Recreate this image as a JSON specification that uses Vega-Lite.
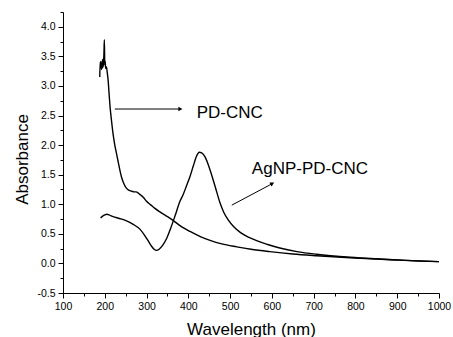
{
  "$schema": "https://vega.github.io/schema/vega-lite/v6.json",
  "width": 376,
  "height": 281,
  "autosize": {"type": "none"},
  "padding": {"left": 63, "top": 12, "right": 14, "bottom": 44},
  "background": "white",
  "config": {
    "view": {"stroke": null},
    "font": "Liberation Sans",
    "axis": {
      "grid": false,
      "domainColor": "black",
      "tickColor": "black",
      "labelColor": "black",
      "titleColor": "black",
      "labelFont": "Liberation Sans",
      "titleFont": "Liberation Sans",
      "labelFontSize": 10.5,
      "titleFontSize": 17,
      "titleFontWeight": "normal",
      "domainWidth": 1,
      "tickWidth": 1,
      "labelOverlap": false
    }
  },
  "resolve": {"axis": {"x": "independent", "y": "independent"}},
  "datasets": {
    "spectra": [
      {"series": "PD-CNC", "wl": 188, "a": 3.15},
      {"series": "PD-CNC", "wl": 189, "a": 3.40},
      {"series": "PD-CNC", "wl": 190, "a": 3.35},
      {"series": "PD-CNC", "wl": 191, "a": 3.42},
      {"series": "PD-CNC", "wl": 192, "a": 3.28},
      {"series": "PD-CNC", "wl": 193, "a": 3.38},
      {"series": "PD-CNC", "wl": 194, "a": 3.30},
      {"series": "PD-CNC", "wl": 195, "a": 3.45},
      {"series": "PD-CNC", "wl": 196, "a": 3.32},
      {"series": "PD-CNC", "wl": 197, "a": 3.40},
      {"series": "PD-CNC", "wl": 198, "a": 3.55},
      {"series": "PD-CNC", "wl": 199, "a": 3.78},
      {"series": "PD-CNC", "wl": 200, "a": 3.35},
      {"series": "PD-CNC", "wl": 201, "a": 3.42},
      {"series": "PD-CNC", "wl": 202, "a": 3.30},
      {"series": "PD-CNC", "wl": 204, "a": 3.32},
      {"series": "PD-CNC", "wl": 206, "a": 3.22},
      {"series": "PD-CNC", "wl": 208, "a": 3.10},
      {"series": "PD-CNC", "wl": 210, "a": 2.90},
      {"series": "PD-CNC", "wl": 213, "a": 2.62},
      {"series": "PD-CNC", "wl": 216, "a": 2.42},
      {"series": "PD-CNC", "wl": 220, "a": 2.18},
      {"series": "PD-CNC", "wl": 224, "a": 2.00},
      {"series": "PD-CNC", "wl": 228, "a": 1.86},
      {"series": "PD-CNC", "wl": 232, "a": 1.72},
      {"series": "PD-CNC", "wl": 236, "a": 1.58},
      {"series": "PD-CNC", "wl": 240, "a": 1.46},
      {"series": "PD-CNC", "wl": 245, "a": 1.36},
      {"series": "PD-CNC", "wl": 250, "a": 1.29},
      {"series": "PD-CNC", "wl": 255, "a": 1.25},
      {"series": "PD-CNC", "wl": 260, "a": 1.23},
      {"series": "PD-CNC", "wl": 265, "a": 1.22},
      {"series": "PD-CNC", "wl": 270, "a": 1.21},
      {"series": "PD-CNC", "wl": 275, "a": 1.21},
      {"series": "PD-CNC", "wl": 280, "a": 1.19},
      {"series": "PD-CNC", "wl": 285, "a": 1.16},
      {"series": "PD-CNC", "wl": 292, "a": 1.12},
      {"series": "PD-CNC", "wl": 300, "a": 1.05},
      {"series": "PD-CNC", "wl": 310, "a": 0.99},
      {"series": "PD-CNC", "wl": 320, "a": 0.93},
      {"series": "PD-CNC", "wl": 332, "a": 0.87},
      {"series": "PD-CNC", "wl": 350, "a": 0.79},
      {"series": "PD-CNC", "wl": 365, "a": 0.72},
      {"series": "PD-CNC", "wl": 380, "a": 0.64},
      {"series": "PD-CNC", "wl": 404, "a": 0.54},
      {"series": "PD-CNC", "wl": 430, "a": 0.45},
      {"series": "PD-CNC", "wl": 452, "a": 0.39},
      {"series": "PD-CNC", "wl": 480, "a": 0.33},
      {"series": "PD-CNC", "wl": 516, "a": 0.28},
      {"series": "PD-CNC", "wl": 550, "a": 0.24},
      {"series": "PD-CNC", "wl": 595, "a": 0.20},
      {"series": "PD-CNC", "wl": 650, "a": 0.16},
      {"series": "PD-CNC", "wl": 707, "a": 0.13},
      {"series": "PD-CNC", "wl": 787, "a": 0.095},
      {"series": "PD-CNC", "wl": 850, "a": 0.072},
      {"series": "PD-CNC", "wl": 900, "a": 0.057},
      {"series": "PD-CNC", "wl": 950, "a": 0.042},
      {"series": "PD-CNC", "wl": 1000, "a": 0.03},
      {"series": "AgNP-PD-CNC", "wl": 190, "a": 0.77},
      {"series": "AgNP-PD-CNC", "wl": 195, "a": 0.80},
      {"series": "AgNP-PD-CNC", "wl": 200, "a": 0.82},
      {"series": "AgNP-PD-CNC", "wl": 205, "a": 0.83},
      {"series": "AgNP-PD-CNC", "wl": 210, "a": 0.82},
      {"series": "AgNP-PD-CNC", "wl": 220, "a": 0.79},
      {"series": "AgNP-PD-CNC", "wl": 235, "a": 0.76},
      {"series": "AgNP-PD-CNC", "wl": 252, "a": 0.72},
      {"series": "AgNP-PD-CNC", "wl": 268, "a": 0.66},
      {"series": "AgNP-PD-CNC", "wl": 284, "a": 0.58},
      {"series": "AgNP-PD-CNC", "wl": 295, "a": 0.48},
      {"series": "AgNP-PD-CNC", "wl": 304, "a": 0.38},
      {"series": "AgNP-PD-CNC", "wl": 312, "a": 0.29},
      {"series": "AgNP-PD-CNC", "wl": 318, "a": 0.24},
      {"series": "AgNP-PD-CNC", "wl": 324, "a": 0.22},
      {"series": "AgNP-PD-CNC", "wl": 330, "a": 0.24},
      {"series": "AgNP-PD-CNC", "wl": 338, "a": 0.30},
      {"series": "AgNP-PD-CNC", "wl": 348, "a": 0.42},
      {"series": "AgNP-PD-CNC", "wl": 358, "a": 0.60},
      {"series": "AgNP-PD-CNC", "wl": 368, "a": 0.80},
      {"series": "AgNP-PD-CNC", "wl": 380, "a": 1.05},
      {"series": "AgNP-PD-CNC", "wl": 388, "a": 1.17},
      {"series": "AgNP-PD-CNC", "wl": 395, "a": 1.30},
      {"series": "AgNP-PD-CNC", "wl": 404, "a": 1.47},
      {"series": "AgNP-PD-CNC", "wl": 412, "a": 1.65},
      {"series": "AgNP-PD-CNC", "wl": 420, "a": 1.82},
      {"series": "AgNP-PD-CNC", "wl": 426, "a": 1.88},
      {"series": "AgNP-PD-CNC", "wl": 432, "a": 1.87},
      {"series": "AgNP-PD-CNC", "wl": 440, "a": 1.80},
      {"series": "AgNP-PD-CNC", "wl": 452, "a": 1.58},
      {"series": "AgNP-PD-CNC", "wl": 465, "a": 1.28},
      {"series": "AgNP-PD-CNC", "wl": 476, "a": 1.02},
      {"series": "AgNP-PD-CNC", "wl": 485, "a": 0.86},
      {"series": "AgNP-PD-CNC", "wl": 495, "a": 0.74},
      {"series": "AgNP-PD-CNC", "wl": 510, "a": 0.61},
      {"series": "AgNP-PD-CNC", "wl": 525, "a": 0.52},
      {"series": "AgNP-PD-CNC", "wl": 545, "a": 0.44},
      {"series": "AgNP-PD-CNC", "wl": 565, "a": 0.38},
      {"series": "AgNP-PD-CNC", "wl": 590, "a": 0.32},
      {"series": "AgNP-PD-CNC", "wl": 619, "a": 0.26},
      {"series": "AgNP-PD-CNC", "wl": 660, "a": 0.20},
      {"series": "AgNP-PD-CNC", "wl": 707, "a": 0.155},
      {"series": "AgNP-PD-CNC", "wl": 787, "a": 0.105},
      {"series": "AgNP-PD-CNC", "wl": 850, "a": 0.078},
      {"series": "AgNP-PD-CNC", "wl": 900, "a": 0.06},
      {"series": "AgNP-PD-CNC", "wl": 950, "a": 0.043},
      {"series": "AgNP-PD-CNC", "wl": 1000, "a": 0.03}
    ],
    "arrows": [
      {"name": "PD-CNC", "x": 224, "y": 2.61, "x2": 380, "y2": 2.61},
      {"name": "AgNP-PD-CNC", "x": 504, "y": 0.985, "x2": 600, "y2": 1.345}
    ],
    "heads1": [{"x": 381, "y": 2.61}],
    "heads2": [{"x": 601, "y": 1.35}],
    "labels": [
      {"text": "PD-CNC", "x": 420, "y": 2.54},
      {"text": "AgNP-PD-CNC", "x": 552, "y": 1.59}
    ]
  },
  "layer": [
    {
      "data": {"name": "spectra"},
      "mark": {"type": "line", "color": "black", "strokeWidth": 1.4, "interpolate": "monotone"},
      "encoding": {
        "x": {
          "field": "wl", "type": "quantitative",
          "scale": {"domain": [100, 1000], "nice": false},
          "axis": {
            "orient": "bottom",
            "title": "Wavelength (nm)",
            "values": [100, 200, 300, 400, 500, 600, 700, 800, 900, 1000],
            "format": "d",
            "tickSize": 5,
            "labelPadding": 3,
            "labelFlush": false,
            "labelOverlap": false,
            "titleY": 41,
            "titleBaseline": "alphabetic"
          }
        },
        "y": {
          "field": "a", "type": "quantitative",
          "scale": {"domain": [-0.5, 4.25], "nice": false, "zero": false},
          "axis": {
            "orient": "left",
            "title": "Absorbance",
            "values": [-0.5, 0, 0.5, 1, 1.5, 2, 2.5, 3, 3.5, 4],
            "labelExpr": "replace(datum.label, '\u2212', '-')",
            "format": ".1f",
            "tickSize": 5,
            "labelPadding": 3,
            "labelFlush": false,
            "labelOverlap": false,
            "titleX": -36,
            "titleY": 147,
            "titleBaseline": "alphabetic"
          }
        },
        "detail": {"field": "series", "type": "nominal"}
      }
    },
    {
      "data": {"name": "arrows"},
      "mark": {"type": "rule", "color": "black", "strokeWidth": 1},
      "encoding": {
        "x": {
          "field": "x", "type": "quantitative",
          "axis": {
            "orient": "bottom", "title": null, "labels": false, "domain": false, "tickSize": 3,
            "values": [150, 250, 350, 450, 550, 650, 750, 850, 950]
          }
        },
        "y": {
          "field": "y", "type": "quantitative",
          "axis": {
            "orient": "left", "title": null, "labels": false, "domain": false, "tickSize": 3,
            "values": [-0.25, 0.25, 0.75, 1.25, 1.75, 2.25, 2.75, 3.25, 3.75, 4.25]
          }
        },
        "x2": {"field": "x2"},
        "y2": {"field": "y2"}
      }
    },
    {
      "data": {"name": "heads1"},
      "mark": {"type": "point", "shape": "triangle-right", "filled": true, "color": "black", "size": 22, "opacity": 1},
      "encoding": {
        "x": {"field": "x", "type": "quantitative", "axis": null},
        "y": {"field": "y", "type": "quantitative", "axis": null}
      }
    },
    {
      "data": {"name": "heads2"},
      "mark": {"type": "point", "shape": "triangle-up", "angle": 62, "filled": true, "color": "black", "size": 22, "opacity": 1},
      "encoding": {
        "x": {"field": "x", "type": "quantitative", "axis": null},
        "y": {"field": "y", "type": "quantitative", "axis": null}
      }
    },
    {
      "data": {"name": "labels"},
      "mark": {"type": "text", "align": "left", "baseline": "middle", "fontSize": 17, "font": "Liberation Sans", "color": "black"},
      "encoding": {
        "x": {"field": "x", "type": "quantitative", "axis": null},
        "y": {"field": "y", "type": "quantitative", "axis": null},
        "text": {"field": "text"}
      }
    }
  ]
}
